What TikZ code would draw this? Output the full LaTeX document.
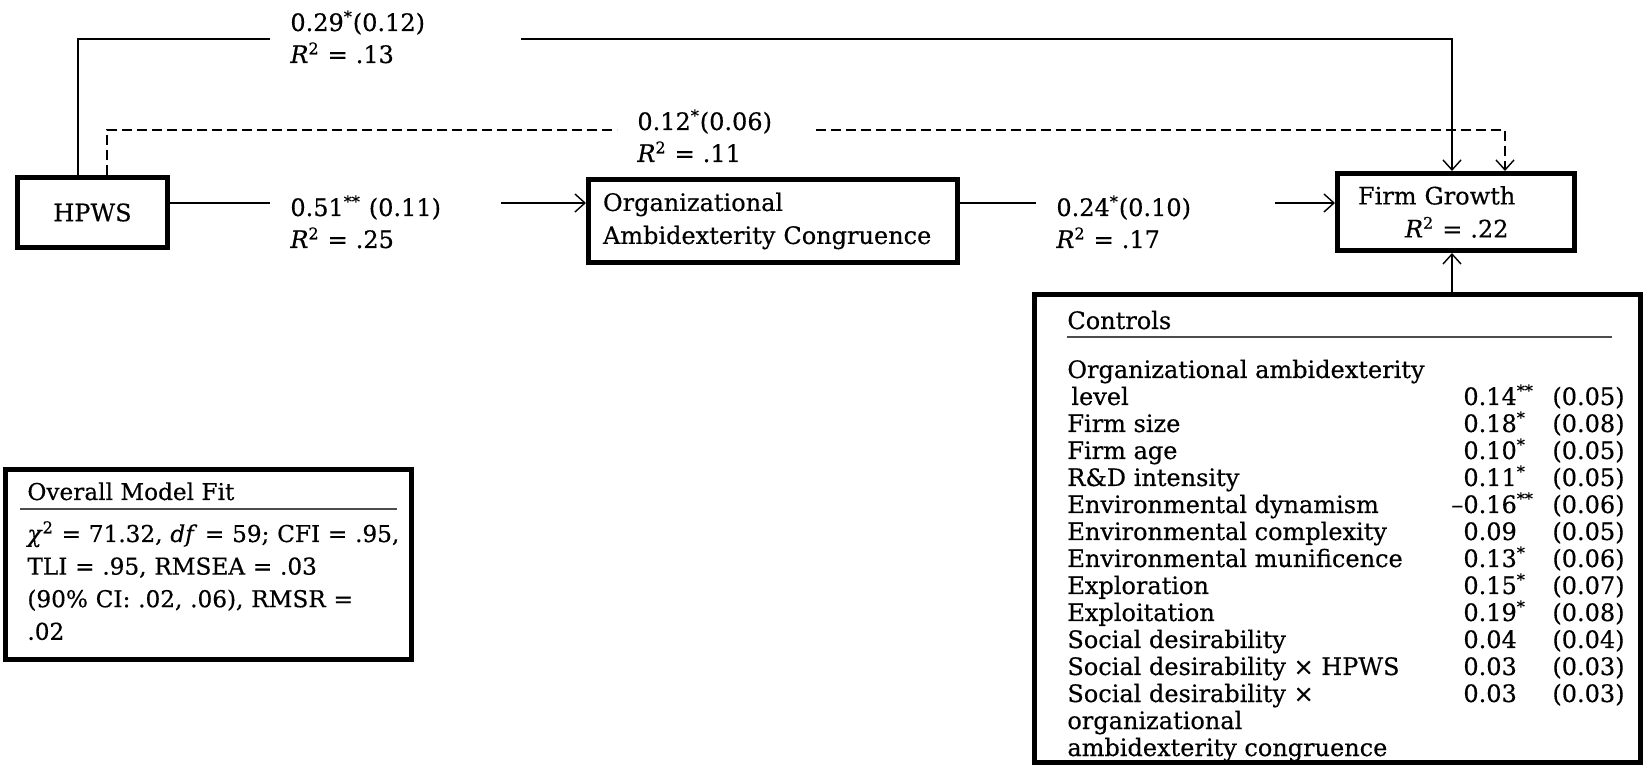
\documentclass[tikz,border=0pt]{standalone}
\usepackage{fontspec}
\setmainfont{DejaVu Serif}[FakeBold=0.4]
\usetikzlibrary{arrows.meta}

\newcommand{\sig}[1]{\textsuperscript{#1}}
\newcommand{\rsq}{\textit{R}\textsuperscript{2}}
\newcommand{\lblfont}{\fontsize{12}{16}\selectfont}
\newcommand{\boxfont}{\fontsize{12}{16.5}\selectfont}
\newcommand{\ctrlfont}{\fontsize{12}{13.5}\selectfont}
\newcommand{\fitfont}{\fontsize{11.6}{16.3}\selectfont}

\tikzset{
  box/.style={draw, line width=2.5pt, inner sep=0pt},
  coef/.style={align=left, inner xsep=10pt, inner ysep=0pt, anchor=base west, font=\lblfont},
  link/.style={line width=0.7pt},
  tip/.style={-{Straight Barb[length=5pt,width=9pt]}},
  ctrltext/.style={anchor=base west, inner sep=0pt, font=\ctrlfont},
  fittext/.style={anchor=base west, inner sep=0pt, font=\fitfont},
  rulecol/.style={line width=0.8pt, black!70}
}

\begin{document}
\begin{tikzpicture}[x=50pt,y=50pt]
\useasboundingbox (0,0) rectangle (16.45,7.65);

%draw boxes
\node[box, minimum width=75pt, minimum height=35pt, font=\boxfont] (hpws) at (0.925,5.525) {HPWS};
\node[box, align=left, text width=170pt, inner xsep=7.25pt, minimum height=41.5pt, font=\boxfont] (oac) at (7.73,5.44) {Organizational\\Ambidexterity Congruence};
\node[box, align=left, text width=98pt, inner xsep=10.25pt, minimum height=38.5pt, font=\boxfont] (fg) at (14.56,5.53) {Firm Growth\\\hspace*{23.5pt}\rsq{} = .22};
\node[box, minimum width=303pt, minimum height=234pt] (ctrl) at (13.375,2.365) {};
\node[box, minimum width=203pt, minimum height=95pt] (fit) at (2.085,2.005) {};

%coefficients on the paths
\node[coef, text width=105pt] (l0) at (2.70,7.34) {0.29\sig{*}(0.12)\\\rsq{} = .13};
\node[coef, text width=79pt] (l2) at (6.17,6.35) {0.12\sig{*}(0.06)\\\rsq{} = .11};
\node[coef, text width=95pt] (l1) at (2.70,5.49) {0.51\sig{**} (0.11)\\\rsq{} = .25};
\node[coef, text width=99pt] (l3) at (10.36,5.49) {0.24\sig{*}(0.10)\\\rsq{} = .17};

%levels of the paths
\coordinate (row) at (0,5.62);
\coordinate (solidtop) at (0.78,7.26);
\coordinate (solidend) at (14.52,7.26);
\coordinate (dashtop) at (1.07,6.35);
\coordinate (dashend) at (15.05,6.35);

%draw direct path
\draw[link] (hpws.north -| solidtop) -- (solidtop) -- (l0.west |- solidtop);
\draw[link, tip] (l0.east |- solidtop) -- (solidend) -- (fg.north -| solidend);

%draw dashed path
\draw[link, dash pattern=on 5pt off 2.5pt] (hpws.north -| dashtop) -- (dashtop) -- (l2.west |- dashtop);
\draw[link, tip, dash pattern=on 5pt off 2.5pt] (l2.east |- dashtop) -- (dashend) -- (fg.north -| dashend);

%draw mediated path
\draw[link] (hpws.east |- row) -- (l1.west |- row);
\draw[link, tip] (l1.east |- row) -- (oac.west |- row);
\draw[link] (oac.east |- row) -- (l3.west |- row);
\draw[link, tip] (l3.east |- row) -- (fg.west |- row);

%draw controls arrow
\draw[link, tip] (ctrl.north -| solidend) -- (fg.south -| solidend);

%controls table
\node[ctrltext] (ctrlhead) at (10.67,4.36) {Controls};
\draw[rulecol] (10.67,4.28) -- (16.12,4.28);
\foreach \lab/\est/\se [count=\i] in {
  {Organizational ambidexterity}/{}/{},
  {\hspace*{2pt}level}/{0.14\sig{**}}/{(0.05)},
  {Firm size}/{0.18\sig{*}}/{(0.08)},
  {Firm age}/{0.10\sig{*}}/{(0.05)},
  {R\&D intensity}/{0.11\sig{*}}/{(0.05)},
  {Environmental dynamism}/{\llap{–}0.16\sig{**}}/{(0.06)},
  {Environmental complexity}/{0.09}/{(0.05)},
  {Environmental munificence}/{0.13\sig{*}}/{(0.06)},
  {Exploration}/{0.15\sig{*}}/{(0.07)},
  {Exploitation}/{0.19\sig{*}}/{(0.08)},
  {Social desirability}/{0.04}/{(0.04)},
  {Social desirability × HPWS}/{0.03}/{(0.03)},
  {Social desirability ×}/{0.03}/{(0.03)},
  {organizational}/{}/{},
  {ambidexterity congruence}/{}/{}}
{
  \node[ctrltext] (cl\i) at (10.67,{4.14-0.27*\i}) {\lab};
  \node[ctrltext] (ce\i) at (14.63,{4.14-0.27*\i}) {\est};
  \node[ctrltext] (cs\i) at (15.52,{4.14-0.27*\i}) {\se};
}

%model fit
\node[fittext] (fithead) at (0.27,2.65) {Overall Model Fit};
\draw[rulecol] (0.20,2.56) -- (3.97,2.56);
\node[fittext, align=left, text width=195pt] (fitbody) at (0.27,2.23) {\textit{χ}\textsuperscript{2} = 71.32, \textit{df} = 59; CFI = .95,\\TLI = .95, RMSEA = .03\\(90\% CI: .02, .06), RMSR =\\.02};

\end{tikzpicture}
\end{document}
